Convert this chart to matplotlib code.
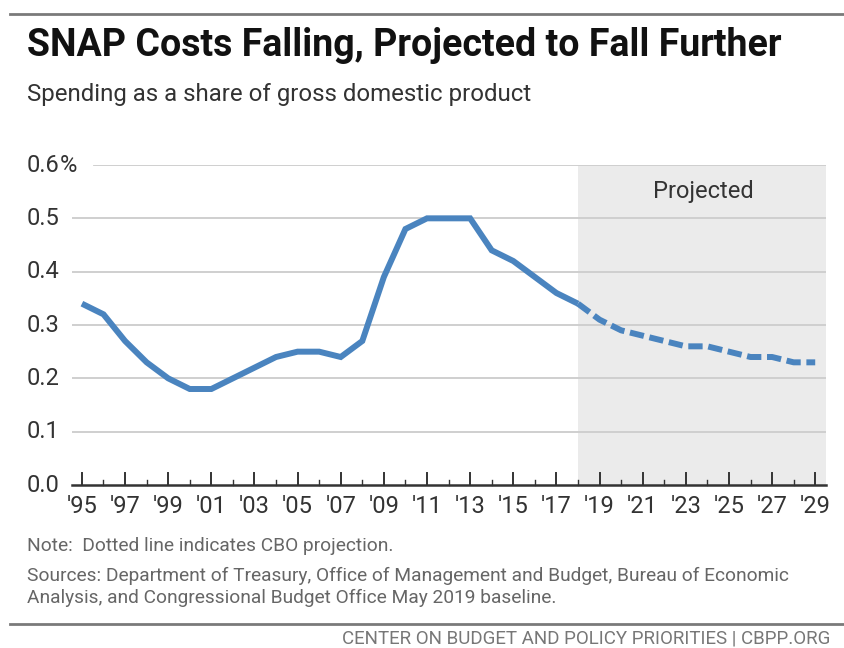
import numpy as np
import matplotlib
matplotlib.use("Agg")
import matplotlib.pyplot as plt
from matplotlib.lines import Line2D

plt.rcParams['font.family'] = ['Roboto', 'DejaVu Sans']

# actual spending, share of GDP (%)
years_actual = [1995, 1996, 1997, 1998, 1999, 2000, 2001, 2002, 2003, 2004, 2005, 2006,
                2007, 2008, 2009, 2010, 2011, 2012, 2013, 2014, 2015, 2016, 2017, 2018]
share_actual = [0.34, 0.32, 0.27, 0.23, 0.20, 0.18, 0.18, 0.20, 0.22, 0.24, 0.25, 0.25,
                0.24, 0.27, 0.39, 0.48, 0.50, 0.50, 0.50, 0.44, 0.42, 0.39, 0.36, 0.34]

# CBO projection
years_proj = [2018, 2019, 2020, 2021, 2022, 2023, 2024, 2025, 2026, 2027, 2028, 2029]
share_proj = [0.34, 0.31, 0.29, 0.28, 0.27, 0.26, 0.26, 0.25, 0.24, 0.24, 0.23, 0.23]

ytick_vals = [0.0, 0.1, 0.2, 0.3, 0.4, 0.5, 0.6]
ytick_labels = ['0.0', '0.1', '0.2', '0.3', '0.4', '0.5', '0.6']
xtick_years = list(range(1995, 2030, 2))
xtick_labels = ["'" + str(y)[2:] for y in xtick_years]
proj_start = 2018

blue = '#4a84bf'
txt = '#333333'
grey = '#666666'

fig = plt.figure(figsize=(8.44, 6.48), dpi=100)
W, H = 844, 648

# axes placed in pixel terms
x0, x1, yb, yt = 72, 826, 485, 165
ax = fig.add_axes([x0 / W, 1 - yb / H, (x1 - x0) / W, (yb - yt) / H])
ax.set_xlim(1994.54, 2029.5)
ax.set_ylim(0, 0.6)
for s in ax.spines.values():
    s.set_visible(False)
ax.set_yticks([])
ax.set_xticks([])

# projected shading
ax.axvspan(proj_start, 2029.5, ymin=0, ymax=1, color='#ebebeb', zorder=0, lw=0)
ax.text(2023.8, 0.55, 'Projected', ha='center', va='center', fontsize=17,
        color=txt)

# gridlines
for v in ytick_vals[1:]:
    xmin = 0.029 if v == 0.6 else 0
    ax.axhline(v, xmin=xmin, xmax=1, color='#cccccc', lw=1.3, zorder=1)

# y labels
for v, lab in zip(ytick_vals, ytick_labels):
    ax.text(-0.017, v, lab, transform=ax.get_yaxis_transform(), ha='right', va='center',
            fontsize=17, color=txt)
ax.text(-0.016, 0.6, '%', transform=ax.get_yaxis_transform(), ha='left', va='center',
        fontsize=17, color=txt)

# x axis line and ticks
ax.axhline(0, color='#333333', lw=1.8, zorder=3, clip_on=False)
for yr in range(1995, 2030):
    major = yr in xtick_years
    h = 0.022 if major else 0.01
    ax.add_line(Line2D([yr, yr], [0, h], color='#333333', lw=1.4 if major else 1.0,
                       zorder=3, clip_on=False))
for yr, lab in zip(xtick_years, xtick_labels):
    ax.text(yr, -0.04, lab, ha='center', va='center', fontsize=17, color=txt)

# series
ax.plot(years_actual, share_actual, color=blue, lw=4.3, solid_capstyle='butt',
        solid_joinstyle='miter', zorder=4)
ax.plot(years_proj, share_proj, color=blue, lw=4.3, dashes=(2.4, 0.95),
        dash_capstyle='butt', zorder=4)

# titles
fig.text(27 / W, 1 - 46 / H, 'SNAP Costs Falling, Projected to Fall Further',
         fontsize=27, fontweight='bold', color='#111111', va='center', ha='left')
fig.text(27 / W, 1 - 95 / H, 'Spending as a share of gross domestic product',
         fontsize=17.3, color=txt, va='center', ha='left')

# notes
fig.text(27 / W, 1 - 546 / H, 'Note:  Dotted line indicates CBO projection.',
         fontsize=13.8, color=grey, va='center', ha='left')
fig.text(27 / W, 1 - 576 / H,
         'Sources: Department of Treasury, Office of Management and Budget, Bureau of Economic',
         fontsize=13.8, color=grey, va='center', ha='left')
fig.text(27 / W, 1 - 598 / H,
         'Analysis, and Congressional Budget Office May 2019 baseline.',
         fontsize=13.8, color=grey, va='center', ha='left')
fig.text(830 / W, 1 - 639 / H, 'CENTER ON BUDGET AND POLICY PRIORITIES | CBPP.ORG',
         fontsize=13.5, color='#777777', va='center', ha='right')

# rules
fig.add_artist(Line2D([10 / W, 1], [1 - 14 / H, 1 - 14 / H], color='#7a7a7a', lw=2))
fig.add_artist(Line2D([10 / W, 1], [1 - 624 / H, 1 - 624 / H], color='#7a7a7a', lw=2))

fig.savefig('out.png', dpi=100)
